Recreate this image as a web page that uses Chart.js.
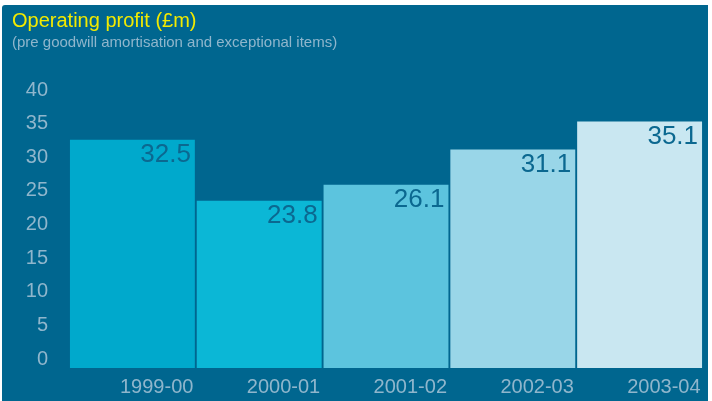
<!DOCTYPE html>
<html>
<head>
<meta charset="utf-8">
<script src="https://cdn.jsdelivr.net/npm/chart.js@4"></script>
<style>
  body { margin: 0; background: #fff; }
  #wrap { position: relative; width: 712px; height: 401px; background: #fff; overflow: hidden; }
  #panel { position: absolute; left: 2px; top: 5px; width: 706px; height: 396px; background: #00668f; border-top-left-radius: 3px; }
  #title { position: absolute; left: 10px; top: 4px; font: 20px "Liberation Sans", Arial, sans-serif; color: #f2ea00; margin: 0; }
  #sub { position: absolute; left: 10px; top: 28px; font: 15px "Liberation Sans", Arial, sans-serif; color: #8fb6cc; margin: 0; }
  #chart { position: absolute; left: 0; top: 0; }
</style>
</head>
<body>
<div id="wrap">
  <div id="panel">
    <canvas id="chart" width="706" height="396"></canvas>
    <div id="title">Operating profit (£m)</div>
    <div id="sub">(pre goodwill amortisation and exceptional items)</div>
  </div>
</div>
<script>
// valores del gráfico
const years = ['1999-00', '2000-01', '2001-02', '2002-03', '2003-04'];
const profit = [32.5, 23.8, 26.1, 31.1, 35.1];
const yTicks = [0, 5, 10, 15, 20, 25, 30, 35, 40];
const barColors = ['#00a9cc', '#0bb7d6', '#5cc4de', '#99d6e8', '#c9e7f1'];

const tickColor = '#8fb6cc';
const fontName = '"Liberation Sans", Arial, sans-serif';

// etiquetas de valor dentro de cada barra
const valueLabels = {
    id: 'valueLabels',
    afterDatasetsDraw(chart) {
        const ctx = chart.ctx;
        const meta = chart.getDatasetMeta(0);
        ctx.save();
        ctx.font = '26px ' + fontName;
        ctx.fillStyle = '#0b6890';
        ctx.textAlign = 'right';
        ctx.textBaseline = 'top';
        meta.data.forEach(function(bar, i) {
            ctx.fillText(profit[i].toFixed(1), bar.x + bar.width / 2 - 4, bar.y + 2);
        });
        ctx.restore();
    }
};

const ctx = document.getElementById('chart').getContext('2d');
new Chart(ctx, {
    type: 'bar',
    data: {
        labels: years,
        datasets: [{
            data: profit,
            backgroundColor: barColors,
            borderWidth: 0,
            barPercentage: 1,
            categoryPercentage: 0.985
        }]
    },
    options: {
        responsive: false,
        animation: false,
        layout: { padding: { top: 82, right: 5, left: 0, bottom: 0 } },
        plugins: {
            legend: { display: false },
            tooltip: { enabled: false }
        },
        scales: {
            x: {
                grid: { display: false, drawTicks: false },
                border: { display: false },
                ticks: {
                    color: tickColor,
                    font: { family: fontName, size: 20 },
                    align: 'end',
                    labelOffset: 61,
                    padding: 7,
                    maxRotation: 0
                },
                afterFit(scale) { scale.height = 32; }
            },
            y: {
                display: false,
                min: 0,
                max: 40
            },
            // eje de etiquetas: en el original las etiquetas no coinciden del todo con la escala
            yLab: {
                position: 'left',
                min: -1.333,
                max: 40.444,
                grid: { display: false, drawTicks: false },
                border: { display: false },
                afterBuildTicks(scale) {
                    scale.ticks = yTicks.map(v => ({ value: v }));
                },
                ticks: {
                    color: tickColor,
                    font: { family: fontName, size: 20 },
                    padding: 21
                },
                afterFit(scale) { scale.width = 67; }
            }
        }
    },
    plugins: [valueLabels]
});
</script>
</body>
</html>
